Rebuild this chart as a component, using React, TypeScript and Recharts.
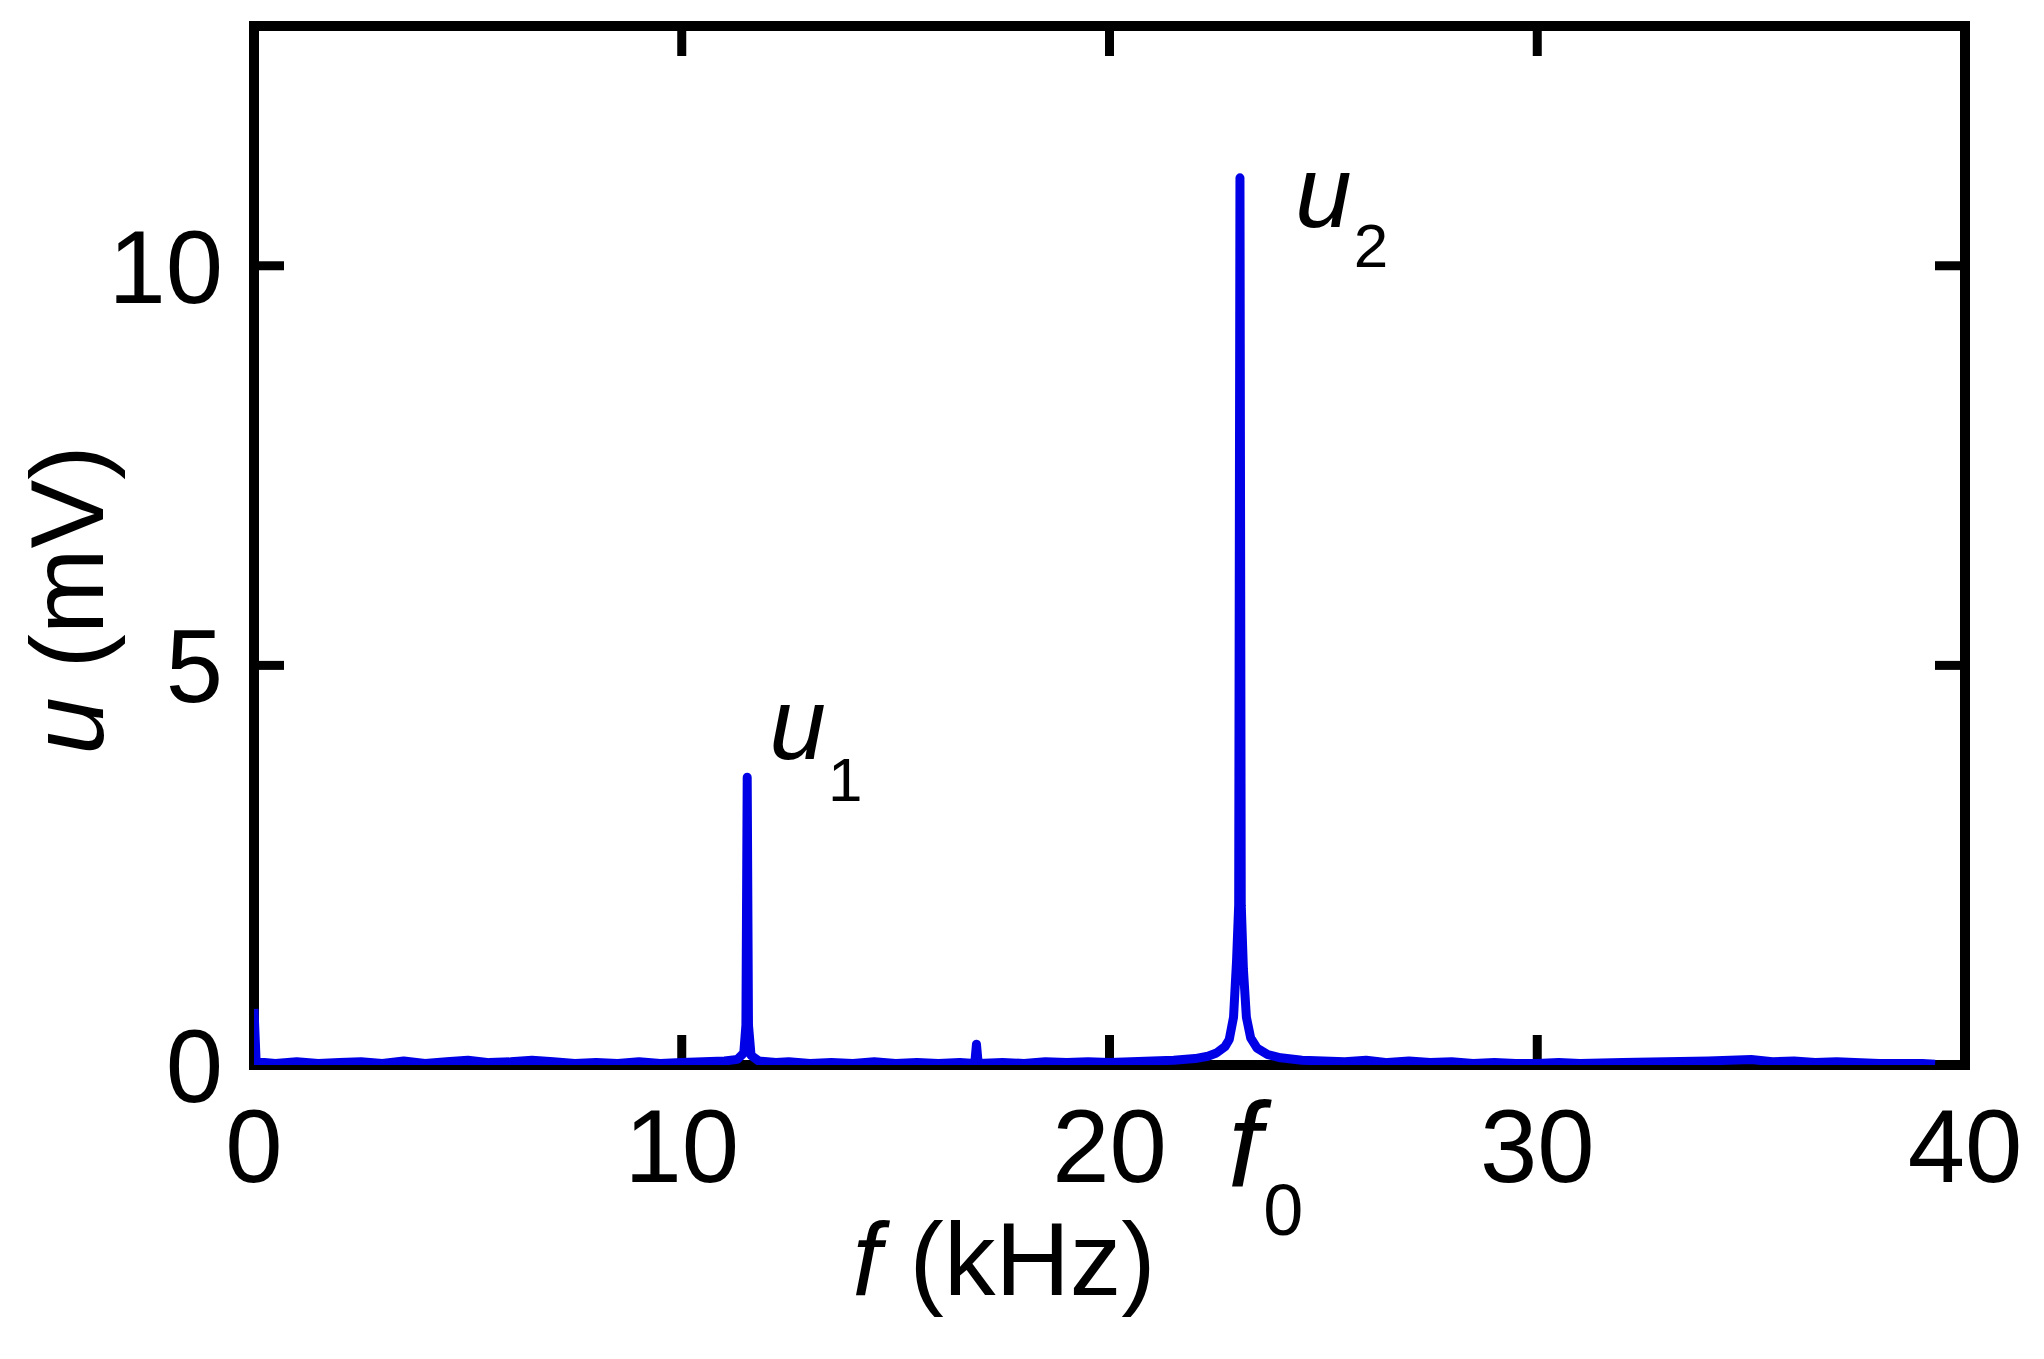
import React from 'react';
import { LineChart, Line, XAxis, YAxis, ReferenceDot } from 'recharts';

// Spectrum (frequency in kHz, amplitude in mV)
const freqKHz = [
  0, 0.05, 0.5, 1, 1.5, 2, 2.5, 3, 3.5, 4, 4.5, 5, 5.5, 6, 6.5, 7, 7.5, 8, 8.5, 9, 9.5, 10,
  10.5, 11, 11.3, 11.45, 11.5, 11.53, 11.56, 11.62, 11.8, 12.2, 12.5, 13, 13.5, 14, 14.5, 15,
  15.5, 16, 16.5, 16.85, 16.89, 16.93, 17.5, 18, 18.5, 19, 19.5, 20, 20.5, 21, 21.5, 22, 22.3,
  22.5, 22.7, 22.8, 22.9, 22.97, 23.02, 23.05, 23.08, 23.13, 23.2, 23.3, 23.45, 23.7, 24, 24.5,
  25, 25.5, 26, 26.5, 27, 27.5, 28, 28.5, 29, 29.5, 30, 30.5, 31, 32, 33, 34, 35, 35.5, 36,
  36.5, 37, 38, 39, 39.3,
];
const ampMV = [
  0.7, 0.04, 0.02, 0.04, 0.02, 0.03, 0.04, 0.02, 0.05, 0.02, 0.04, 0.06, 0.03, 0.04, 0.06, 0.04, 0.02, 0.03, 0.02, 0.04, 0.02, 0.03,
  0.04, 0.05, 0.07, 0.15, 0.5, 3.6, 0.5, 0.12, 0.05, 0.03, 0.04, 0.02, 0.03, 0.02, 0.04, 0.02,
  0.03, 0.02, 0.03, 0.02, 0.26, 0.02, 0.03, 0.02, 0.04, 0.03, 0.04, 0.03, 0.04, 0.05, 0.06, 0.08, 0.11,
  0.15, 0.23, 0.32, 0.6, 1.3, 2.0, 11.1, 2.0, 1.2, 0.6, 0.34, 0.21, 0.13, 0.09, 0.06,
  0.05, 0.04, 0.06, 0.03, 0.05, 0.03, 0.04, 0.02, 0.03, 0.02, 0.02, 0.03, 0.02, 0.03, 0.04, 0.05, 0.07, 0.04, 0.05,
  0.03, 0.04, 0.02, 0.02, 0.01,
];

const xTicks = [0, 10, 20, 30, 40];
const yTicks = [0, 5, 10];

// peak positions used to anchor the annotations
const peakU1 = { f: 11.53, u: 3.6 };
const peakU2 = { f: 23.05, u: 11.1 };

const spectrum = freqKHz.map((f, i) => ({ f, u: ampMV[i] }));

const FONT = '"Liberation Sans", Arial, sans-serif';
const BLUE = '#0000E6';
const frame = { stroke: '#000', strokeWidth: 10, strokeLinecap: 'square' as const };
const TICK_LEN = 30;

const BottomTick = (props: any) => {
  const { x, y, payload } = props;
  return (
    <g>
      <line x1={x} y1={y} x2={x} y2={y - TICK_LEN} stroke="#000" strokeWidth={9} />
      <text x={x} y={y + 117} textAnchor="middle" fontSize={103} fontFamily={FONT} fill="#000">
        {payload.value}
      </text>
    </g>
  );
};

const TopTick = (props: any) => {
  const { x, y } = props;
  return <line x1={x} y1={y} x2={x} y2={y + TICK_LEN} stroke="#000" strokeWidth={9} />;
};

const LeftTick = (props: any) => {
  const { x, y, payload } = props;
  return (
    <g>
      <line x1={x} y1={y} x2={x + TICK_LEN} y2={y} stroke="#000" strokeWidth={9} />
      <text x={x - 31} y={y + 37} textAnchor="end" fontSize={103} fontFamily={FONT} fill="#000">
        {payload.value}
      </text>
    </g>
  );
};

const RightTick = (props: any) => {
  const { x, y } = props;
  return <line x1={x} y1={y} x2={x - TICK_LEN} y2={y} stroke="#000" strokeWidth={9} />;
};

const XLabel = (props: any) => {
  const vb = props.viewBox;
  return (
    <text x={vb.x + 750} y={vb.y + 230} textAnchor="middle" fontSize={103} fontFamily={FONT} fill="#000">
      <tspan fontStyle="italic">f</tspan>
      {' (kHz)'}
    </text>
  );
};

const YLabel = (props: any) => {
  const vb = props.viewBox;
  const cx = vb.x + 95;
  const cy = vb.y + 574;
  return (
    <text
      x={cx}
      y={cy}
      transform={`rotate(-90, ${cx}, ${cy})`}
      textAnchor="middle"
      fontSize={103}
      fontFamily={FONT}
      fill="#000"
    >
      <tspan fontStyle="italic">u</tspan>
      {' (mV)'}
    </text>
  );
};

const subLabel = (main: string, sub: string, dx: number, dy: number, size: number, subSize: number, subDy: number) =>
  (props: any) => {
    const vb = props.viewBox;
    return (
      <text x={vb.x + dx} y={vb.y + dy} fontSize={size} fontFamily={FONT} fill="#000">
        <tspan fontStyle="italic">{main}</tspan>
        <tspan fontSize={subSize} dx={2} dy={subDy}>
          {sub}
        </tspan>
      </text>
    );
  };

export default function App() {
  return (
    <div style={{ width: 2028, height: 1343, background: '#fff', fontFamily: FONT }}>
      <LineChart width={2028} height={1343} data={spectrum} margin={{ top: 0, right: 0, bottom: 0, left: 0 }}>
        <XAxis
          xAxisId="b"
          dataKey="f"
          type="number"
          domain={[0, 40]}
          ticks={xTicks}
          interval={0}
          height={286}
          tickSize={0}
          tickMargin={0}
          tick={BottomTick}
          axisLine={frame}
          allowDataOverflow
          label={{ content: XLabel }}
        />
        <XAxis
          xAxisId="t"
          orientation="top"
          dataKey="f"
          type="number"
          domain={[0, 40]}
          ticks={xTicks}
          interval={0}
          height={18}
          tickSize={0}
          tickMargin={0}
          tick={TopTick}
          axisLine={frame}
          allowDataOverflow
        />
        <YAxis
          yAxisId="l"
          type="number"
          domain={[0, 13]}
          ticks={yTicks}
          interval={0}
          width={246}
          tickSize={0}
          tickMargin={0}
          tick={LeftTick}
          axisLine={frame}
          allowDataOverflow
          label={{ content: YLabel }}
        />
        <YAxis
          yAxisId="r"
          orientation="right"
          type="number"
          domain={[0, 13]}
          ticks={yTicks}
          interval={0}
          width={71}
          tickSize={0}
          tickMargin={0}
          tick={RightTick}
          axisLine={frame}
          allowDataOverflow
        />
        <Line
          xAxisId="b"
          yAxisId="l"
          type="linear"
          dataKey="u"
          stroke={BLUE}
          strokeWidth={9}
          strokeLinejoin="round"
          dot={false}
          isAnimationActive={false}
          zIndex={2000}
        />
        <ReferenceDot
          xAxisId="b"
          yAxisId="l"
          x={peakU1.f}
          y={peakU1.u}
          r={0}
          stroke="none"
          fill="none"
          label={{ content: subLabel('u', '1', 22, -18, 102, 62, 42) }}
        />
        <ReferenceDot
          xAxisId="b"
          yAxisId="l"
          x={peakU2.f}
          y={peakU2.u}
          r={0}
          stroke="none"
          fill="none"
          label={{ content: subLabel('u', '2', 55, 49, 102, 62, 40) }}
        />
        <ReferenceDot
          xAxisId="b"
          yAxisId="l"
          x={peakU2.f}
          y={0}
          r={0}
          stroke="none"
          fill="none"
          label={{ content: subLabel('f', '0', -12, 122, 120, 72, 48) }}
        />
      </LineChart>
    </div>
  );
}
